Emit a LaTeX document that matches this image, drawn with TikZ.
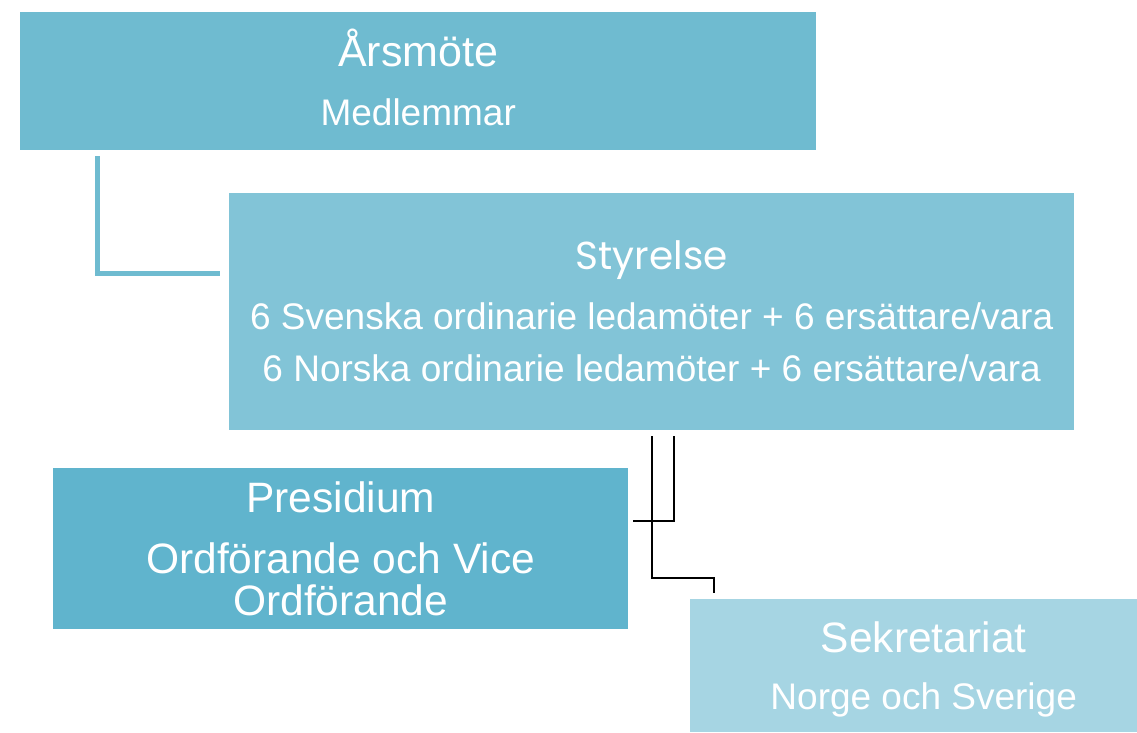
\documentclass[tikz,border=0pt]{standalone}
\usepackage{fontspec}
\setmainfont{Liberation Sans}
\newfontfamily\gothicfont{Poppins}
\usetikzlibrary{positioning}

\definecolor{arsblue}{HTML}{6FBBD0}
\definecolor{styrblue}{HTML}{82C4D7}
\definecolor{presblue}{HTML}{60B4CD}
\definecolor{sekrblue}{HTML}{A6D5E3}

\begin{document}
\begin{tikzpicture}[x=1pt, y=-1pt,
    box/.style={fill=#1, text=white, align=center, inner sep=0pt, anchor=north west},
    tealline/.style={draw=arsblue, line width=5pt},
    thinline/.style={draw=black, line width=2pt}]
        \useasboundingbox (0,0) rectangle (1137,732);

        \node (arsmote) [box=arsblue, minimum width=796pt, minimum height=138pt,
            text depth=8pt, font=\fontsize{37}{59}\selectfont] at (20,12)
            {{\fontsize{43}{59}\selectfont Årsmöte}\\Medlemmar};
        \node (styrelse) [box=styrblue, minimum width=845pt, minimum height=237pt,
            font=\fontsize{37}{52}\selectfont] at (229,193)
            {{\gothicfont\fontsize{39}{52}\selectfont Styrelse}\\[8pt]
             6 Svenska ordinarie ledamöter + 6 ersättare/vara\\
             6 Norska ordinarie ledamöter + 6 ersättare/vara};
        \node (presidium) [box=presblue, minimum width=575pt, minimum height=161pt,
            font=\fontsize{42.5}{42}\selectfont] at (53,468)
            {Presidium\\[19pt]Ordförande och Vice\\Ordförande};
        % box runs past the page edge, as in the source
        \node (sekretariat) [box=sekrblue, minimum width=467pt, minimum height=133pt,
            text depth=-2pt, font=\fontsize{37}{57}\selectfont] at (690,599)
            {{\fontsize{42.5}{57}\selectfont Sekretariat}\\Norge och Sverige};

        % connectors
        \draw [tealline] ([xshift=77pt, yshift=-6pt]arsmote.south west)
            |- ([xshift=-9pt, yshift=38pt]styrelse.west);
        \draw [thinline] ([xshift=22pt, yshift=-6pt]styrelse.south)
            |- ([xshift=5pt, yshift=27.5pt]presidium.east);
        \draw [thinline] ([yshift=-6pt]styrelse.south)
            |- ([xshift=24pt, yshift=21pt]sekretariat.north west)
            -- ([xshift=24pt, yshift=6pt]sekretariat.north west);
\end{tikzpicture}
\end{document}
